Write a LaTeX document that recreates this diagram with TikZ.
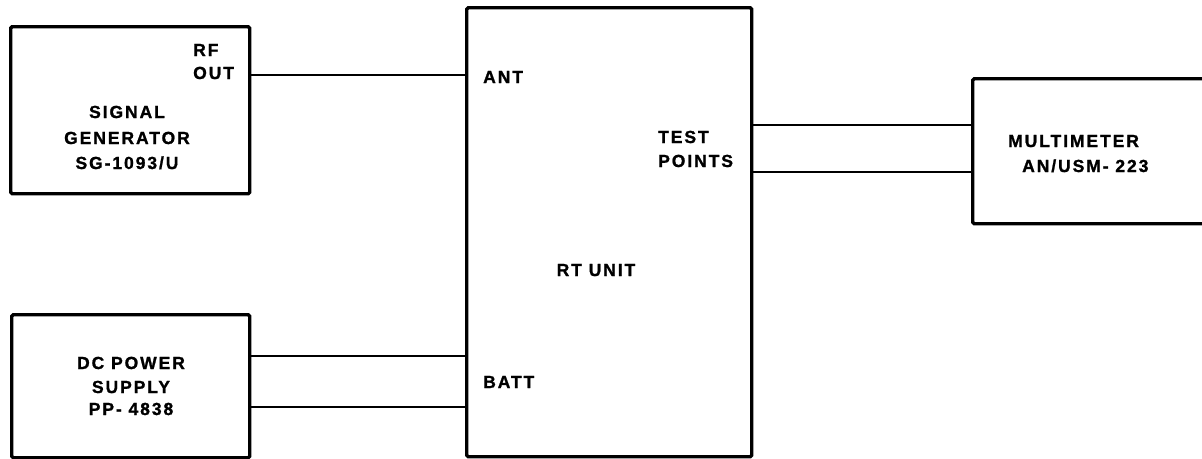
\documentclass[tikz,border=0pt]{standalone}
\usepackage{fontspec}
\newfontfamily\lblfont{Liberation Sans}[LetterSpace=11,BoldFeatures={FakeBold=1.2}]
\begin{document}
\begin{tikzpicture}[x=1pt,y=-1pt,
  box/.style={draw,line width=3.4pt,rounded corners=1.5pt,inner sep=0pt,anchor=north west},
  wire/.style={line width=2.2pt},
  lbl/.style={inner sep=0pt,font=\lblfont\bfseries\fontsize{17.5}{20}\selectfont},
  lblw/.style={lbl,anchor=base west},
  lblc/.style={lbl,anchor=base}]
\useasboundingbox (0,0) rectangle (1202,458);
% boxes
\node[box,minimum width=239pt,minimum height=167pt] (sg) at (9,25) {};
\node[box,minimum width=238pt,minimum height=143pt] (dc) at (10,313) {};
\node[box,minimum width=285pt,minimum height=449pt] (rt) at (465,6) {};
\node[box,minimum width=240pt,minimum height=145pt] (mm) at (971,77) {};
% labels
\node[lblw] (rf) at (193,56) {RF};
\node[lblw] (out) at (193,79) {OUT};
\node[lblc] (sg1) at (127,118) {SIGNAL};
\node[lblc] (sg2) at (127,144) {GENERATOR};
\node[lblc] (sg3) at (127,169) {SG-1093/U};
\node[lblc] (dc1) at (131,369) {DC POWER};
\node[lblc] (dc2) at (131,393) {SUPPLY};
\node[lblc] (dc3) at (131,415) {PP- 4838};
\node[lblw] (ant) at (483,83) {ANT};
\node[lblw] (tp1) at (658,143) {TEST};
\node[lblw] (tp2) at (658,167) {POINTS};
\node[lblw] (batt) at (483,388) {BATT};
\node[lblc] (rtu) at (596,276) {RT UNIT};
\node[lblw] (mm1) at (1008,147) {MULTIMETER};
\node[lblw] (mm2) at (1022,172) {AN/USM- 223};
% connector heights
\coordinate (yrf) at (0,75);
\coordinate (ydc1) at (0,356);
\coordinate (ydc2) at (0,407);
\coordinate (ytp1) at (0,125);
\coordinate (ytp2) at (0,172);
% connectors
\draw[wire] (sg.east |- yrf) -- (rt.west |- yrf);
\draw[wire] (dc.east |- ydc1) -- (rt.west |- ydc1);
\draw[wire] (dc.east |- ydc2) -- (rt.west |- ydc2);
\draw[wire] (rt.east |- ytp1) -- (mm.west |- ytp1);
\draw[wire] (rt.east |- ytp2) -- (mm.west |- ytp2);
\end{tikzpicture}
\end{document}
